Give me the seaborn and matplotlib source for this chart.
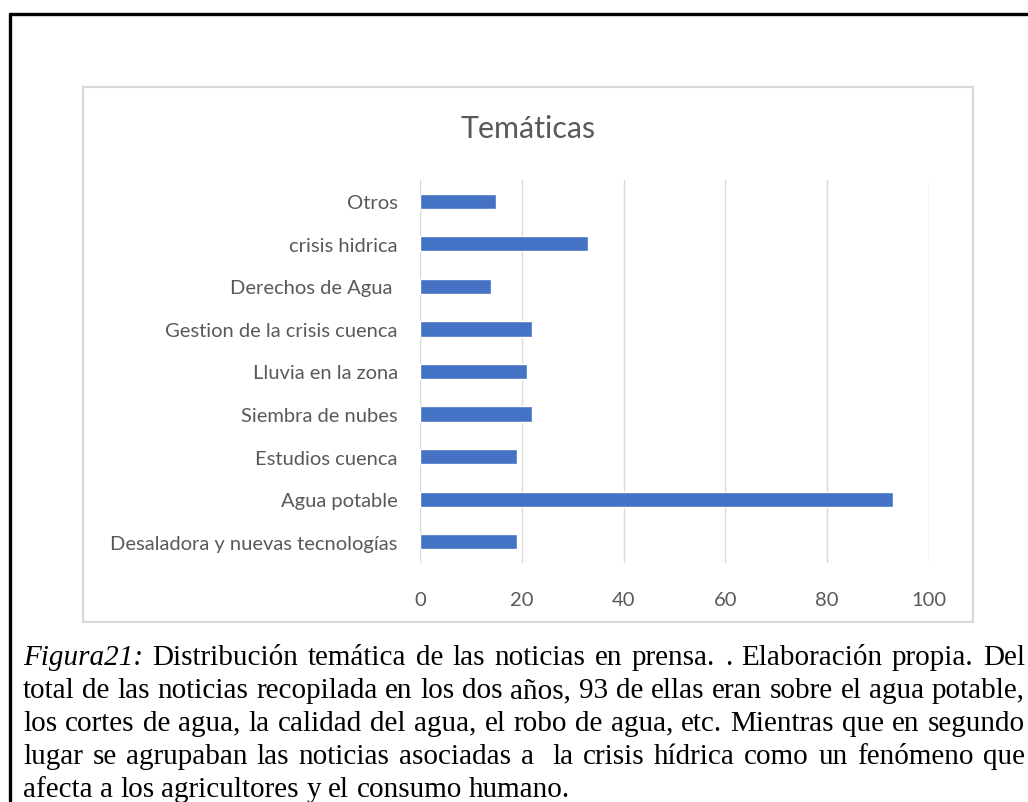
import matplotlib
matplotlib.use("Agg")
import matplotlib.pyplot as plt
import seaborn as sns
import pandas as pd
from matplotlib.patches import Rectangle
from matplotlib.lines import Line2D

# ---------------- data ----------------
categories = [
    "Otros",
    "crisis hidrica",
    "Derechos de Agua ",
    "Gestion de la crisis cuenca",
    "Lluvia en la zona",
    "Siembra de nubes",
    "Estudios cuenca",
    "Agua potable",
    "Desaladora y nuevas tecnologías",
]
values = [15, 33, 14, 22, 21, 22, 19, 93, 19]
xticks = [0, 20, 40, 60, 80, 100]
title = "Temáticas"
caption_label = "Figura21:"
caption_lines = [
    "Distribución temática de las noticias en prensa. . Elaboración propia. Del",
    "total de las noticias recopilada en los dos años, 93 de ellas eran sobre el agua potable,",
    "los cortes de agua, la calidad del agua, el robo de agua, etc. Mientras que en segundo",
    "lugar se agrupaban las noticias asociadas a  la crisis hídrica como un fenómeno que",
    "afecta a los agricultores y el consumo humano.",
]

# ---------------- style ----------------
sns.set_theme(style="white")
plt.rcParams["font.family"] = ["Lato", "DejaVu Sans"]

W, H = 1028, 803
fig = plt.figure(figsize=(W / 100, H / 100), dpi=100)
fig.patch.set_facecolor("white")


def fx(x):
    return x / W


def fy(y):
    return 1 - y / H


renderer = fig.canvas.get_renderer()


def width_px(t):
    return t.get_window_extent(renderer=renderer).width


def fit(t, target):
    fs = t.get_fontsize()
    for _ in range(3):
        w = width_px(t)
        fs = fs * target / w
        t.set_fontsize(fs)
    return fs


GREY = "#595959"

# chart frame and page border
fig.patches.append(Rectangle((fx(83), fy(623)), fx(973) - fx(83), fy(88) - fy(623),
                             transform=fig.transFigure, fill=False,
                             edgecolor="#D9D9D9", lw=1.5))
fig.lines.append(Line2D([fx(10), fx(10)], [fy(15), 0], transform=fig.transFigure,
                        color="black", lw=2.4))
fig.lines.append(Line2D([fx(10), 1], [fy(15), fy(15)], transform=fig.transFigure,
                        color="black", lw=2.4))

# ---------------- chart ----------------
ax = fig.add_axes([fx(420), fy(564), fx(929) - fx(420), fy(181) - fy(564)])
df = pd.DataFrame({"tema": categories, "n": values})
sns.barplot(data=df, x="n", y="tema", orient="h", color="#4472C4",
            saturation=1, width=0.36, ax=ax)
ax.set_xlim(0, 100)
ax.set_xticks(xticks)
ax.set_ylim(len(categories) - 0.5, -0.5)
ax.grid(axis="x", color="#D9D9D9", lw=1)
ax.grid(axis="y", visible=False)
ax.set_axisbelow(True)
for s in ax.spines.values():
    s.set_visible(False)
ax.set_xlabel("")
ax.set_ylabel("")
ax.tick_params(axis="both", length=0, colors=GREY)
ax.tick_params(axis="y", pad=16)
ax.tick_params(axis="x", pad=20)
for lab in ax.get_yticklabels() + ax.get_xticklabels():
    lab.set_fontsize(14)
    lab.set_color(GREY)

# fit tick-label size to reference width of longest label
longest = ax.get_yticklabels()[-1]
fs = fit(longest, 288)
for lab in ax.get_yticklabels() + ax.get_xticklabels():
    lab.set_fontsize(fs)

t = fig.text(fx(528), fy(138), title, ha="center", va="baseline",
             color=GREY, fontsize=22)
fit(t, 135)

# ---------------- caption (justified) ----------------
SERIF = ["Liberation Serif", "DejaVu Serif"]
probe = fig.text(0, 0, caption_lines[-1], fontsize=21, family=SERIF)
cap_fs = fit(probe, 548)
probe.remove()

x0, x1 = 23, 1025
base0, step = 665, 33
for i, line in enumerate(caption_lines):
    words = line.split(" ")
    items = []
    if i == 0:
        items.append((caption_label, "italic"))
    for w in words:
        items.append((w, "normal"))
    texts = []
    for w, st in items:
        tt = fig.text(0, fy(base0 + i * step), w, fontsize=cap_fs, family=SERIF,
                      style=st, color="black", va="baseline", ha="left")
        texts.append(tt)
    widths = [width_px(tt) if tt.get_text() else 0 for tt in texts]
    last = i == len(caption_lines) - 1
    if last:
        sp = fig.text(0, 0, "a a", fontsize=cap_fs, family=SERIF)
        sp2 = fig.text(0, 0, "aa", fontsize=cap_fs, family=SERIF)
        gap = width_px(sp) - width_px(sp2)
        sp.remove()
        sp2.remove()
    else:
        gap = (x1 - x0 - sum(widths)) / (len(texts) - 1)
    x = x0
    for tt, w in zip(texts, widths):
        tt.set_x(fx(x))
        x += w + gap

fig.savefig("out.png", dpi=100)
